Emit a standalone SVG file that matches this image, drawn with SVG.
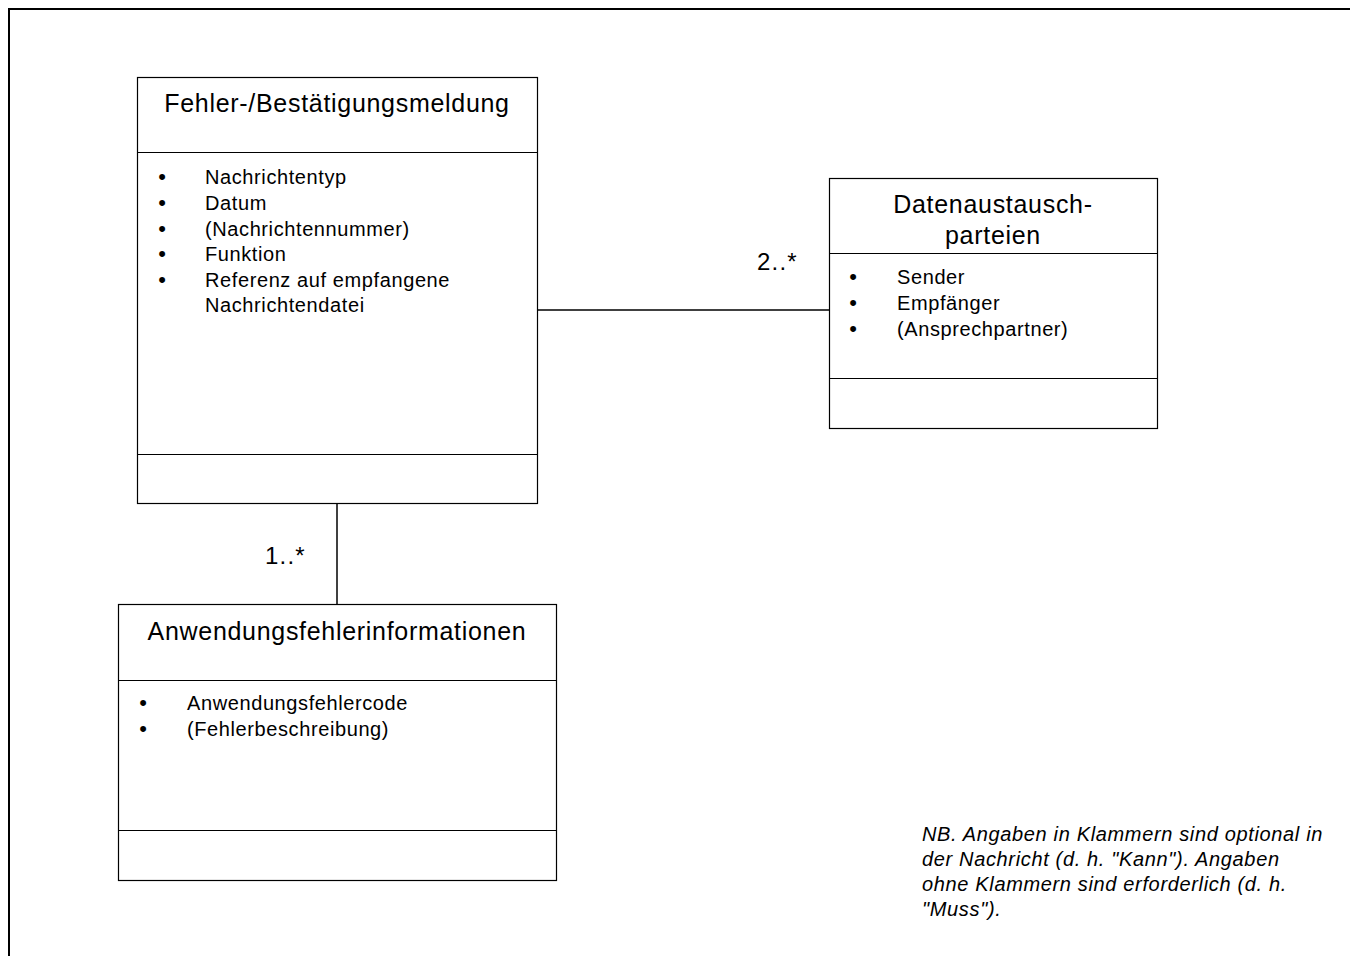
<svg xmlns="http://www.w3.org/2000/svg" width="1350" height="956" viewBox="0 0 1350 956">
<style>
.box{fill:#fff;stroke:#000;stroke-width:1.2}
.div{stroke:#000;stroke-width:1.2}
.conn{stroke:#000;stroke-width:1.5;fill:none}
.t{font-family:"Liberation Sans",Arial,sans-serif;fill:#000}
.title{font-size:25px;letter-spacing:0.7px;text-anchor:middle}
.item{font-size:20px;letter-spacing:0.6px}
.bul{font-size:22px;text-anchor:middle}
.mult{font-size:24px;letter-spacing:1.2px}
.note{font-size:20px;font-style:italic;letter-spacing:0.65px}
</style>
<rect x="0" y="0" width="1350" height="956" fill="#fff"/>
<path d="M9,956 V9 H1350" fill="none" stroke="#000" stroke-width="2"/>
<g id="connectors">
<line class="conn" x1="538" y1="310" x2="829" y2="310"/>
<line class="conn" x1="337" y1="504" x2="337" y2="604"/>
<text class="t mult" x="757" y="270">2..*</text>
<text class="t mult" x="265" y="564">1..*</text>
</g>
<g id="node-fehler">
<rect class="box" x="137.5" y="77.5" width="400" height="426"/>
<line class="div" x1="137.5" y1="152.5" x2="537.5" y2="152.5"/>
<line class="div" x1="137.5" y1="454.5" x2="537.5" y2="454.5"/>
<text class="t title" x="337" y="112">Fehler-/Bestätigungsmeldung</text>
<g class="t item">
<text x="205" y="184">Nachrichtentyp</text>
<text x="205" y="210">Datum</text>
<text x="205" y="236">(Nachrichtennummer)</text>
<text x="205" y="261">Funktion</text>
<text x="205" y="287">Referenz auf empfangene</text>
<text x="205" y="312">Nachrichtendatei</text>
</g>
<g class="t bul">
<text x="162" y="184">•</text>
<text x="162" y="210">•</text>
<text x="162" y="236">•</text>
<text x="162" y="261">•</text>
<text x="162" y="287">•</text>
</g>
</g>
<g id="node-parteien">
<rect class="box" x="829.5" y="178.5" width="328" height="250"/>
<line class="div" x1="829.5" y1="253.5" x2="1157.5" y2="253.5"/>
<line class="div" x1="829.5" y1="378.5" x2="1157.5" y2="378.5"/>
<text class="t title" x="993" y="213">Datenaustausch-</text>
<text class="t title" x="993" y="244">parteien</text>
<g class="t item">
<text x="897" y="284">Sender</text>
<text x="897" y="310">Empfänger</text>
<text x="897" y="336">(Ansprechpartner)</text>
</g>
<g class="t bul">
<text x="853" y="284">•</text>
<text x="853" y="310">•</text>
<text x="853" y="336">•</text>
</g>
</g>
<g id="node-anwendung">
<rect class="box" x="118.5" y="604.5" width="438" height="276"/>
<line class="div" x1="118.5" y1="680.5" x2="556.5" y2="680.5"/>
<line class="div" x1="118.5" y1="830.5" x2="556.5" y2="830.5"/>
<text class="t title" x="337" y="640">Anwendungsfehlerinformationen</text>
<g class="t item">
<text x="187" y="710">Anwendungsfehlercode</text>
<text x="187" y="736">(Fehlerbeschreibung)</text>
</g>
<g class="t bul">
<text x="143" y="710">•</text>
<text x="143" y="736">•</text>
</g>
</g>
<g id="note" class="t note">
<text x="922" y="841">NB. Angaben in Klammern sind optional in</text>
<text x="922" y="866">der Nachricht (d. h. "Kann"). Angaben</text>
<text x="922" y="891">ohne Klammern sind erforderlich (d. h.</text>
<text x="922" y="916">"Muss").</text>
</g>
</svg>
